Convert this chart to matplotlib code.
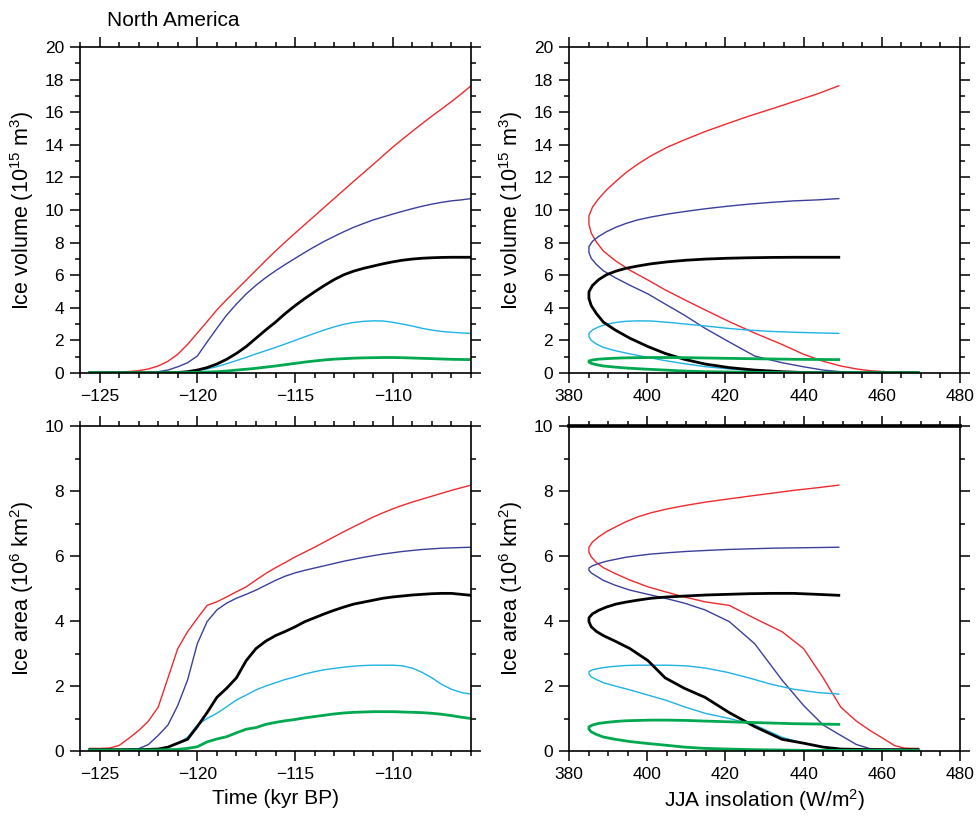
import matplotlib
matplotlib.use("Agg")
import matplotlib.pyplot as plt
from matplotlib.ticker import MultipleLocator

plt.rcParams['font.family'] = ['Liberation Sans', 'DejaVu Sans']
plt.rcParams['mathtext.default'] = 'regular'

# ---------------- data ----------------
time_kyr = [-125.5, -125.0, -124.5, -124.0, -123.5, -123.0, -122.5, -122.0, -121.5, -121.0,
            -120.5, -120.0, -119.5, -119.0, -118.5, -118.0, -117.5, -117.0, -116.5, -116.0,
            -115.5, -115.0, -114.5, -114.0, -113.5, -113.0, -112.5, -112.0, -111.5, -111.0,
            -110.5, -110.0, -109.5, -109.0, -108.5, -108.0, -107.5, -107.0, -106.5, -106.0]

insolation = [469.3, 467.8, 465.7, 463.2, 460.3, 457.0, 453.5, 449.5, 445.0, 440.0,
              434.5, 427.5, 421.0, 414.8, 409.5, 404.6, 400.2, 395.6, 391.8, 388.8,
              387.0, 385.7, 385.1, 385.1, 386.0, 387.6, 389.6, 392.0, 394.5, 397.5,
              401.0, 405.2, 410.0, 415.0, 420.5, 426.0, 431.8, 437.5, 443.5, 449.0]

vol_red = [0.04, 0.04, 0.05, 0.06, 0.09, 0.14, 0.25, 0.43, 0.72, 1.15,
           1.75, 2.45, 3.15, 3.87, 4.50, 5.10, 5.70, 6.30, 6.90, 7.48,
           8.04, 8.58, 9.11, 9.64, 10.17, 10.70, 11.23, 11.76, 12.28, 12.80,
           13.33, 13.86, 14.35, 14.83, 15.30, 15.76, 16.20, 16.65, 17.12, 17.62]
vol_blue = [0.02, 0.02, 0.02, 0.02, 0.03, 0.03, 0.04, 0.08, 0.18, 0.38,
            0.63, 1.04, 1.90, 2.74, 3.55, 4.23, 4.85, 5.38, 5.85, 6.27,
            6.66, 7.03, 7.40, 7.75, 8.08, 8.38, 8.67, 8.94, 9.17, 9.39,
            9.57, 9.75, 9.92, 10.08, 10.23, 10.36, 10.47, 10.56, 10.62, 10.70]
vol_black = [0.02, 0.02, 0.02, 0.02, 0.02, 0.02, 0.02, 0.02, 0.02, 0.03,
             0.08, 0.18, 0.33, 0.55, 0.84, 1.20, 1.62, 2.13, 2.64, 3.12,
             3.65, 4.13, 4.57, 4.98, 5.37, 5.73, 6.03, 6.25, 6.42, 6.56,
             6.70, 6.82, 6.92, 6.99, 7.04, 7.07, 7.09, 7.10, 7.10, 7.10]
vol_cyan = [0.02, 0.02, 0.02, 0.02, 0.02, 0.02, 0.02, 0.02, 0.02, 0.03,
            0.07, 0.14, 0.25, 0.39, 0.57, 0.76, 0.96, 1.17, 1.37, 1.57,
            1.78, 2.00, 2.22, 2.43, 2.64, 2.83, 2.99, 3.10, 3.17, 3.20,
            3.19, 3.11, 3.00, 2.88, 2.74, 2.63, 2.55, 2.50, 2.46, 2.43]
vol_green = [0.02, 0.02, 0.02, 0.02, 0.02, 0.02, 0.02, 0.02, 0.02, 0.02,
             0.03, 0.04, 0.06, 0.08, 0.12, 0.18, 0.23, 0.29, 0.36, 0.43,
             0.51, 0.59, 0.67, 0.74, 0.80, 0.85, 0.88, 0.91, 0.93, 0.94,
             0.95, 0.95, 0.94, 0.92, 0.90, 0.88, 0.86, 0.84, 0.83, 0.82]

area_red = [0.08, 0.08, 0.09, 0.17, 0.39, 0.63, 0.92, 1.35, 2.25, 3.15,
            3.67, 4.08, 4.48, 4.59, 4.74, 4.90, 5.05, 5.26, 5.46, 5.64,
            5.80, 5.97, 6.12, 6.27, 6.43, 6.59, 6.75, 6.90, 7.05, 7.20,
            7.33, 7.45, 7.56, 7.66, 7.75, 7.84, 7.93, 8.02, 8.10, 8.18]
area_blue = [0.05, 0.05, 0.05, 0.05, 0.06, 0.07, 0.20, 0.48, 0.80, 1.40,
             2.18, 3.30, 3.98, 4.34, 4.55, 4.70, 4.82, 4.95, 5.10, 5.25,
             5.38, 5.48, 5.56, 5.63, 5.70, 5.77, 5.84, 5.90, 5.96, 6.01,
             6.06, 6.10, 6.14, 6.17, 6.20, 6.22, 6.24, 6.25, 6.26, 6.27]
area_black = [0.04, 0.04, 0.04, 0.04, 0.04, 0.04, 0.05, 0.06, 0.12, 0.24,
              0.36, 0.75, 1.18, 1.65, 1.93, 2.25, 2.78, 3.15, 3.38, 3.55,
              3.68, 3.82, 3.98, 4.10, 4.22, 4.33, 4.43, 4.52, 4.58, 4.64,
              4.70, 4.74, 4.77, 4.80, 4.82, 4.84, 4.85, 4.85, 4.82, 4.79]
area_cyan = [0.04, 0.04, 0.04, 0.04, 0.04, 0.04, 0.05, 0.06, 0.12, 0.24,
             0.42, 0.80, 1.00, 1.16, 1.36, 1.57, 1.72, 1.88, 2.00, 2.10,
             2.20, 2.28, 2.37, 2.44, 2.50, 2.54, 2.58, 2.61, 2.63, 2.64,
             2.64, 2.64, 2.62, 2.55, 2.42, 2.25, 2.05, 1.90, 1.80, 1.75]
area_green = [0.03, 0.03, 0.03, 0.03, 0.03, 0.03, 0.03, 0.03, 0.04, 0.05,
              0.08, 0.13, 0.28, 0.37, 0.44, 0.56, 0.67, 0.72, 0.82, 0.88,
              0.93, 0.97, 1.02, 1.06, 1.10, 1.14, 1.17, 1.19, 1.20, 1.21,
              1.21, 1.21, 1.20, 1.19, 1.18, 1.16, 1.13, 1.09, 1.04, 1.00]

colors = {'red': '#ee2a2e', 'blue': '#3b3f9c', 'black': '#000000',
          'cyan': '#1db3e3', 'green': '#00a84f'}
widths = {'red': 1.0, 'blue': 1.0, 'black': 2.0, 'cyan': 1.0, 'green': 2.0}
order = ['red', 'blue', 'cyan', 'black', 'green']

vol = {'red': vol_red, 'blue': vol_blue, 'black': vol_black,
       'cyan': vol_cyan, 'green': vol_green}
area = {'red': area_red, 'blue': area_blue, 'black': area_black,
        'cyan': area_cyan, 'green': area_green}
# in the reference, the green curve of the insolation/area panel repeats the volume values
area_vs_ins = {'red': area_red, 'blue': area_blue, 'black': area_black,
               'cyan': area_cyan, 'green': vol_green}

# ---------------- figure ----------------
W, H = 978, 817
fig = plt.figure(figsize=(W / 100, H / 100), dpi=100)


def rect(l, t, r, b):
    return [l / W, 1 - b / H, (r - l) / W, (b - t) / H]


ax_tl = fig.add_axes(rect(80, 47, 471, 373))
ax_tr = fig.add_axes(rect(569, 47, 960, 373))
ax_bl = fig.add_axes(rect(80, 426, 471, 751))
ax_br = fig.add_axes(rect(569, 426, 960, 751))

for k in order:
    ax_tl.plot(time_kyr, vol[k], color=colors[k], lw=widths[k])
    ax_tr.plot(insolation, vol[k], color=colors[k], lw=widths[k])
    ax_bl.plot(time_kyr, area[k], color=colors[k], lw=widths[k])
    ax_br.plot(insolation, area_vs_ins[k], color=colors[k], lw=widths[k])

for ax in (ax_tl, ax_bl):
    ax.set_xlim(-126, -106)
    ax.xaxis.set_major_locator(MultipleLocator(5))
    ax.xaxis.set_minor_locator(MultipleLocator(1))
for ax in (ax_tr, ax_br):
    ax.set_xlim(380, 480)
    ax.xaxis.set_major_locator(MultipleLocator(20))
    ax.xaxis.set_minor_locator(MultipleLocator(5))
for ax in (ax_tl, ax_tr):
    ax.set_ylim(0, 20)
    ax.yaxis.set_major_locator(MultipleLocator(2))
    ax.yaxis.set_minor_locator(MultipleLocator(1))
    ax.set_ylabel('Ice volume (10$^{15}$ m$^{3}$)', fontsize=15.5, labelpad=6)
for ax in (ax_bl, ax_br):
    ax.set_ylim(0, 10)
    ax.yaxis.set_major_locator(MultipleLocator(2))
    ax.yaxis.set_minor_locator(MultipleLocator(1))
    ax.set_ylabel('Ice area (10$^{6}$ km$^{2}$)', fontsize=15.5, labelpad=6)

for ax in (ax_tl, ax_tr, ax_bl, ax_br):
    ax.tick_params(which='both', direction='out', top=True, right=True,
                   labelsize=12.5, width=1.1, pad=4)
    ax.tick_params(which='major', length=7.5)
    ax.tick_params(which='minor', length=3.6)
    for s in ax.spines.values():
        s.set_linewidth(1.2)

ax_br.spines['top'].set_linewidth(2.6)

ax_bl.set_xlabel('Time (kyr BP)', fontsize=15, labelpad=5)
ax_br.set_xlabel('JJA insolation (W/m$^{2}$)', fontsize=15, labelpad=4)

fig.text(107 / W, 1 - 20 / H, 'North America', fontsize=15, va='center', ha='left')

fig.savefig('out.png', dpi=100)
